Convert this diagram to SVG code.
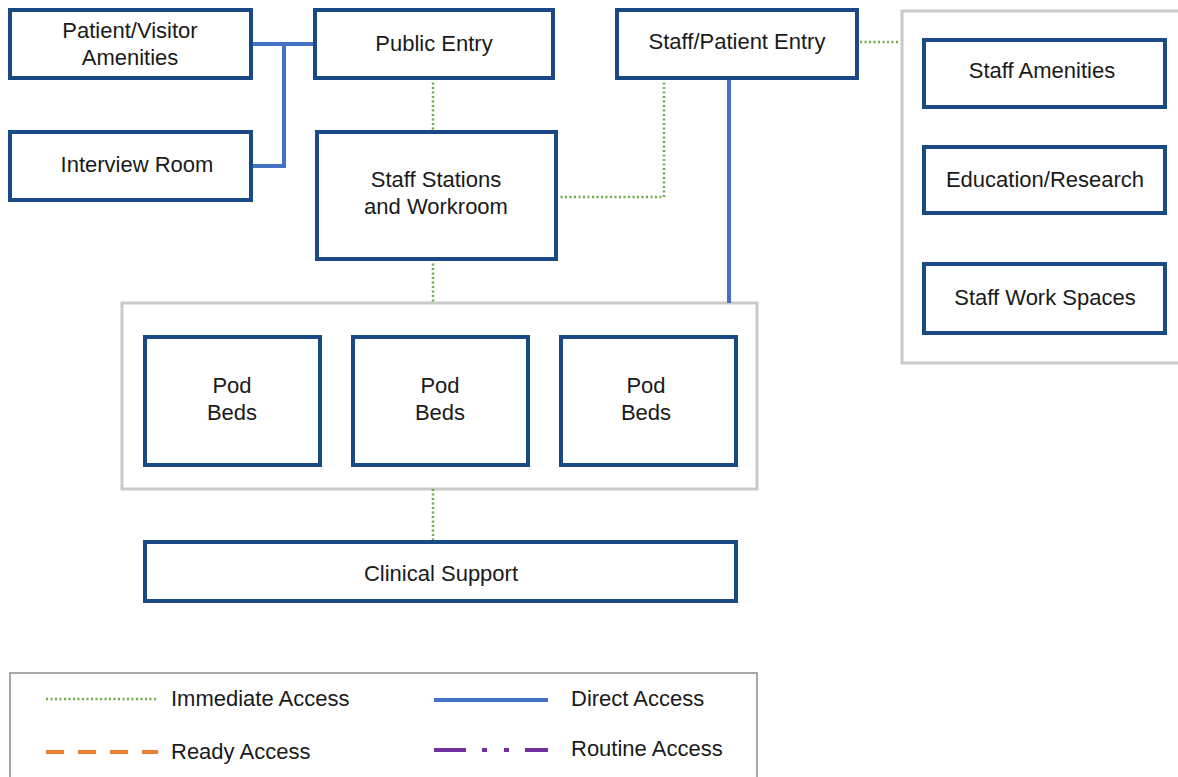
<svg xmlns="http://www.w3.org/2000/svg" width="1178" height="777" viewBox="0 0 1178 777">
<style>
.node{fill:#fff;stroke:#1a4a86;stroke-width:4}
.cont{fill:#fff;stroke:#c9c9c9;stroke-width:3}
.t{font-family:"Liberation Sans",Arial,sans-serif;font-size:22px;fill:#1a1a1a;text-anchor:middle}
.lt{font-family:"Liberation Sans",Arial,sans-serif;font-size:22px;fill:#1a1a1a}
.direct{fill:none;stroke:#4472c4;stroke-width:4}
.imm{fill:none;stroke:#70ad47;stroke-width:2.5;stroke-dasharray:2 2.5}
.ready{fill:none;stroke:#ed7d31;stroke-width:4;stroke-dasharray:18 14}
.routine{fill:none;stroke:#7030a0;stroke-width:4;stroke-dasharray:32 16 5 17 5 16}
</style>
<rect width="1178" height="777" fill="#fff"/>
<g id="containers">
<rect class="cont" x="902" y="11" width="290" height="352"/>
<rect class="cont" x="122" y="303" width="635" height="186"/>
</g>
<g id="connectors">
<polyline class="direct" points="251,44 315,44"/>
<polyline class="direct" points="284,44 284,166 251,166"/>
<line class="direct" x1="729" y1="78" x2="729" y2="303"/>
<line class="imm" x1="433" y1="78" x2="433" y2="132"/>
<line class="imm" x1="433" y1="259" x2="433" y2="303"/>
<line class="imm" x1="433" y1="489" x2="433" y2="542"/>
<polyline class="imm" points="556,197 664,197 664,78"/>
<line class="imm" x1="860" y1="42" x2="900" y2="42"/>
</g>
<g id="n-patient-visitor"><rect class="node" x="10" y="10" width="241" height="68"/><text class="t" x="130" y="38">Patient/Visitor</text><text class="t" x="130" y="65">Amenities</text></g>
<g id="n-public-entry"><rect class="node" x="315" y="10" width="238" height="68"/><text class="t" x="434" y="51">Public Entry</text></g>
<g id="n-staff-patient-entry"><rect class="node" x="617" y="10" width="240" height="68"/><text class="t" x="737" y="49">Staff/Patient Entry</text></g>
<g id="n-interview"><rect class="node" x="10" y="132" width="241" height="68"/><text class="t" x="137" y="172">Interview Room</text></g>
<g id="n-staff-stations"><rect class="node" x="317" y="132" width="239" height="127"/><text class="t" x="436" y="187">Staff Stations</text><text class="t" x="436" y="214">and Workroom</text></g>
<g id="n-staff-amenities"><rect class="node" x="924" y="40" width="241" height="67"/><text class="t" x="1042" y="78">Staff Amenities</text></g>
<g id="n-education"><rect class="node" x="924" y="147" width="241" height="66"/><text class="t" x="1045" y="187">Education/Research</text></g>
<g id="n-staff-work"><rect class="node" x="924" y="264" width="241" height="69"/><text class="t" x="1045" y="305">Staff Work Spaces</text></g>
<g id="n-pod1"><rect class="node" x="145" y="337" width="175" height="128"/><text class="t" x="232" y="393">Pod</text><text class="t" x="232" y="420">Beds</text></g>
<g id="n-pod2"><rect class="node" x="353" y="337" width="175" height="128"/><text class="t" x="440" y="393">Pod</text><text class="t" x="440" y="420">Beds</text></g>
<g id="n-pod3"><rect class="node" x="561" y="337" width="175" height="128"/><text class="t" x="646" y="393">Pod</text><text class="t" x="646" y="420">Beds</text></g>
<g id="n-clinical"><rect class="node" x="145" y="542" width="591" height="59"/><text class="t" x="441" y="581">Clinical Support</text></g>
<g id="legend">
<rect x="10" y="673" width="747" height="110" fill="#fff" stroke="#8c8c8c" stroke-width="1.5"/>
<line class="imm" x1="46" y1="699" x2="158" y2="699"/>
<text class="lt" x="171" y="706">Immediate Access</text>
<line class="direct" x1="434" y1="700" x2="548" y2="700"/>
<text class="lt" x="571" y="706">Direct Access</text>
<line class="ready" x1="46" y1="752" x2="158" y2="752"/>
<text class="lt" x="171" y="759">Ready Access</text>
<line class="routine" x1="434" y1="750" x2="548" y2="750"/>
<text class="lt" x="571" y="756">Routine Access</text>
</g>
</svg>
